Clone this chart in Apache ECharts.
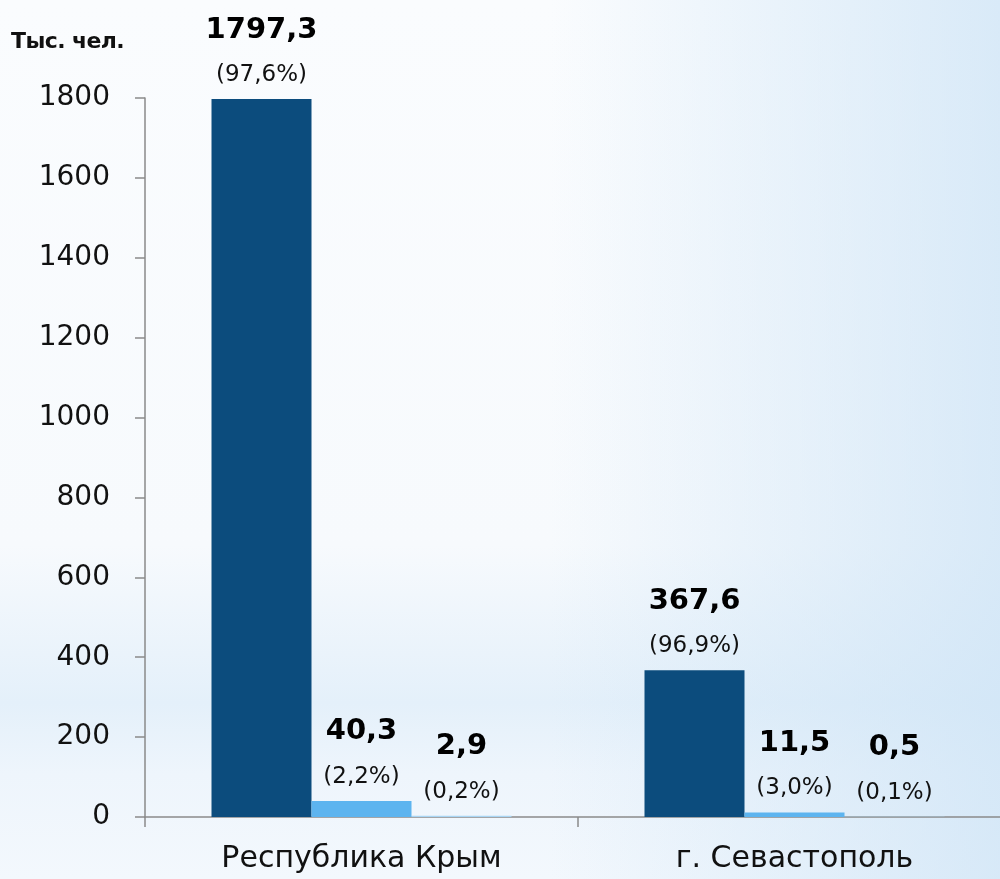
<!DOCTYPE html>
<html>
<head>
<meta charset="utf-8">
<script src="https://cdn.jsdelivr.net/npm/echarts@6/dist/echarts.min.js"></script>
<style>
html,body{margin:0;padding:0;}
body{width:1000px;height:879px;background:
 linear-gradient(90deg,rgba(255,255,255,0) 55%,rgba(206,228,246,0.75) 100%),
 linear-gradient(180deg,#fafcfe 0%,#f7fafd 62%,#e4f0fa 80%,#eef5fc 88%,#f3f8fd 100%);}
#chart{width:1000px;height:879px;}
#unit{position:absolute;left:11px;top:28px;font:bold 22px "DejaVu Sans";letter-spacing:-0.6px;color:#111;text-shadow:0 0 3px #fff,0 0 3px #fff;}
</style>
</head>
<body>
<div id="chart"></div>
<div id="unit">Тыс. чел.</div>
<script>
const categories = ['Республика Крым', 'г. Севастополь'];
const series1 = [1797.3, 367.6];
const series1Pct = ['97,6', '96,9'];
const series2 = [40.3, 11.5];
const series2Pct = ['2,2', '3,0'];
const series3 = [2.9, 0.5];
const series3Pct = ['0,2', '0,1'];
const yTicks = [0, 200, 400, 600, 800, 1000, 1200, 1400, 1600, 1800];

const fmt = v => v.toFixed(1).replace('.', ',');
function mkLabel(pcts) {
  return {
    show: true,
    position: 'top',
    distance: 6,
    fontFamily: 'DejaVu Sans',
    formatter: p => '{v|' + fmt(p.value) + '}\n{p|(' + pcts[p.dataIndex] + '%)}',
    rich: {
      v: {fontSize: 29, fontWeight: 'bold', color: '#000', lineHeight: 54, fontFamily: 'DejaVu Sans'},
      p: {fontSize: 23, color: '#111', lineHeight: 36, fontFamily: 'DejaVu Sans'}
    }
  };
}
const chart = echarts.init(document.getElementById('chart'));
chart.setOption({
  backgroundColor: 'transparent',
  animation: false,
  grid: {left: 145, width: 866, top: 98, bottom: 62, containLabel: false, outerBoundsMode: 'none'},
  xAxis: {
    type: 'category',
    data: categories,
    axisLine: {lineStyle: {color: '#8a8a8a', width: 1.5}},
    axisTick: {show: true, length: 10, lineStyle: {color: '#8a8a8a', width: 1.5}},
    axisLabel: {fontSize: 30, color: '#111', margin: 27, fontFamily: 'DejaVu Sans'}
  },
  yAxis: {
    type: 'value',
    min: 0, max: 1800, interval: 200,
    axisLine: {show: true, lineStyle: {color: '#8a8a8a', width: 1.5}},
    axisTick: {show: true, length: 10, lineStyle: {color: '#8a8a8a', width: 1.5}},
    splitLine: {show: false},
    axisLabel: {fontSize: 28, color: '#111', margin: 35, fontFamily: 'DejaVu Sans',
      formatter: v => yTicks.includes(v) ? String(v) : ''}
  },
  series: [
    {type: 'bar', data: series1, barWidth: 100, barGap: '0%', itemStyle: {color: '#0c4c7d'}, label: mkLabel(series1Pct)},
    {type: 'bar', data: series2, barWidth: 100, barGap: '0%', itemStyle: {color: '#5db4ef'}, label: mkLabel(series2Pct)},
    {type: 'bar', data: series3, barWidth: 100, barGap: '0%', itemStyle: {color: '#a9d5f3'}, label: mkLabel(series3Pct)}
  ]
});
</script>
</body>
</html>
